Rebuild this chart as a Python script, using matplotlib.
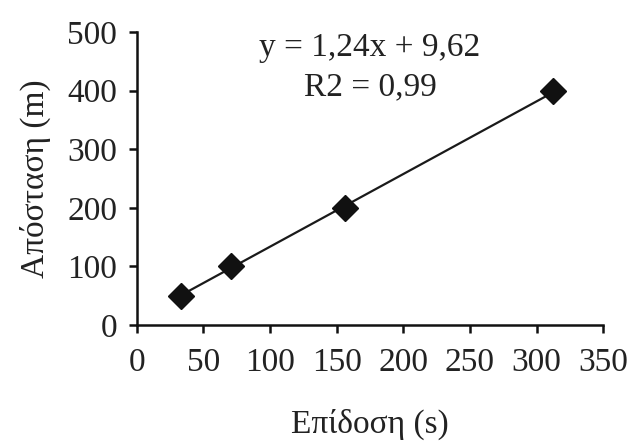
import numpy as np
import matplotlib
matplotlib.use("Agg")
import matplotlib.pyplot as plt

# data
performance_s = [33, 71, 156, 312]
distance_m = [50, 100, 200, 400]
slope, intercept = 1.24, 9.62
x_ticks = [0, 50, 100, 150, 200, 250, 300, 350]
y_ticks = [0, 100, 200, 300, 400, 500]

plt.rcParams["font.family"] = ["Liberation Serif", "DejaVu Serif"]
plt.rcParams["font.size"] = 24

fig = plt.figure(figsize=(6.33, 4.44), dpi=100)
ax = fig.add_axes([0.216, 0.268, 0.737, 0.66])

xs = np.array([min(performance_s), max(performance_s)])
ax.plot(xs, slope * xs + intercept, color="#1a1a1a", lw=1.6, zorder=2)
ax.plot(performance_s, distance_m, ls="none", marker="D", ms=13,
        color="#111111", zorder=3)

ax.set_xlim(0, 350)
ax.set_ylim(0, 500)
ax.set_xticks(x_ticks)
ax.set_yticks(y_ticks)
for s in ["top", "right"]:
    ax.spines[s].set_visible(False)
for s in ["left", "bottom"]:
    ax.spines[s].set_linewidth(1.8)
    ax.spines[s].set_color("#111111")
ax.tick_params(axis="both", direction="out", length=6, width=1.8,
               colors="#111111", labelcolor="#222222")
ax.tick_params(axis="x", pad=10)
ax.tick_params(axis="y", pad=8)

ax.set_xlabel("Επίδοση (s)", labelpad=22, color="#222222")
ax.set_ylabel("Απόσταση (m)", labelpad=12, color="#222222")

ax.text(0.5, 0.945, "y = 1,24x + 9,62", transform=ax.transAxes,
        ha="center", va="center", color="#222222")
ax.text(0.5, 0.812, "R2 = 0,99", transform=ax.transAxes,
        ha="center", va="center", color="#222222")

fig.savefig("out.png", dpi=100)
